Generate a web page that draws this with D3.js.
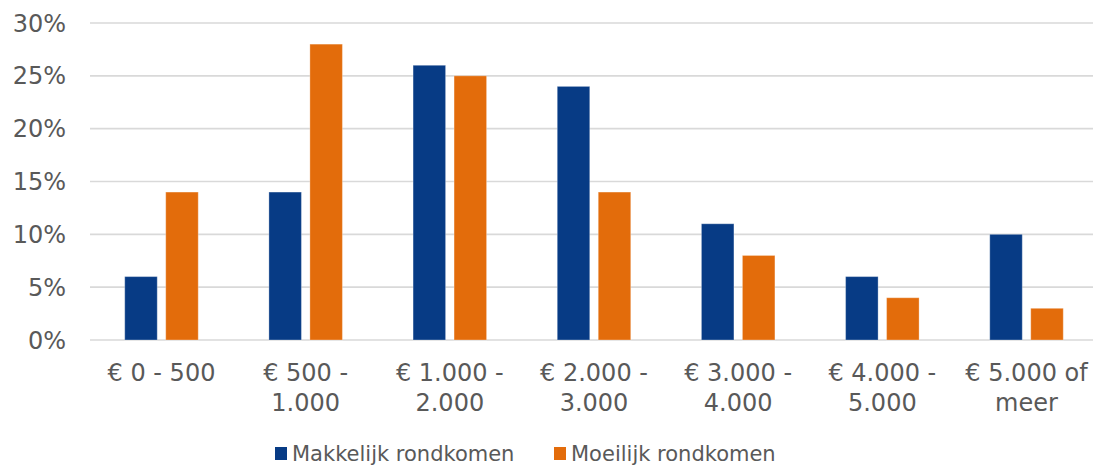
<!DOCTYPE html>
<html>
<head>
<meta charset="utf-8">
<script src="https://cdn.jsdelivr.net/npm/d3@7"></script>
<style>
  html, body { margin: 0; padding: 0; background: #fff; }
  svg text { font-family: "DejaVu Sans", Verdana, sans-serif; fill: #595959; }
</style>
</head>
<body>
<div id="chart"></div>
<script>
// data
const categories = [
  ['€ 0 - 500'],
  ['€ 500 -', '1.000'],
  ['€ 1.000 -', '2.000'],
  ['€ 2.000 -', '3.000'],
  ['€ 3.000 -', '4.000'],
  ['€ 4.000 -', '5.000'],
  ['€ 5.000 of', 'meer']
];
const seriesNames = ['Makkelijk rondkomen', 'Moeilijk rondkomen'];
const makkelijk = [6, 14, 26, 24, 11, 6, 10];
const moeilijk = [14, 28, 25, 14, 8, 4, 3];
const yTicks = [0, 5, 10, 15, 20, 25, 30];
const colors = ['#073b85', '#e36c0b'];

const width = 1093;
const height = 466;

const svg = d3.select('#chart')
  .append('svg')
  .attr('width', width)
  .attr('height', height);

const x = d3.scaleBand()
  .domain(d3.range(categories.length))
  .range([89.4, 1098.6])
  .padding(0);

const xInner = d3.scaleBand()
  .domain(d3.range(seriesNames.length))
  .range([0, x.bandwidth()])
  .paddingInner(0.207)
  .paddingOuter(0.862);

const y = d3.scaleLinear()
  .domain([0, 30])
  .range([340, 23]);

// gridlines
svg.append('g')
  .selectAll('line')
  .data(yTicks)
  .enter()
  .append('line')
  .attr('x1', 90)
  .attr('x2', width)
  .attr('y1', d => y(d))
  .attr('y2', d => y(d))
  .style('stroke', '#d9d9d9')
  .style('stroke-width', '1.6px');

// y labels
svg.append('g')
  .selectAll('text')
  .data(yTicks)
  .enter()
  .append('text')
  .attr('x', 66)
  .attr('y', d => y(d))
  .attr('dy', '0.36em')
  .attr('text-anchor', 'end')
  .style('font-size', '24px')
  .text(d => d + '%');

// bars
const values = [makkelijk, moeilijk];
const groups = svg.append('g')
  .selectAll('g')
  .data(values)
  .enter()
  .append('g')
  .style('fill', (_, i) => colors[i]);

groups.each(function(series, si) {
  d3.select(this).selectAll('rect')
    .data(series)
    .enter()
    .append('rect')
    .attr('x', (_, i) => x(i) + xInner(si))
    .attr('width', xInner.bandwidth())
    .attr('y', d => y(d))
    .attr('height', d => y(0) - y(d))
    .style('stroke', '#fff')
    .style('stroke-opacity', 0.3)
    .style('stroke-width', '1px');
});

// x labels
const xl = svg.append('g')
  .selectAll('text')
  .data(categories)
  .enter()
  .append('text')
  .attr('x', (_, i) => x(i) + x.bandwidth() / 2)
  .attr('y', 381)
  .attr('text-anchor', 'middle')
  .style('font-size', '24px');

xl.selectAll('tspan')
  .data(d => d)
  .enter()
  .append('tspan')
  .attr('x', function() { return d3.select(this.parentNode).attr('x'); })
  .attr('dy', (_, i) => i === 0 ? 0 : 30)
  .text(d => d);

// legend
const legendX = [275, 554];
const legend = svg.append('g')
  .selectAll('g')
  .data(seriesNames)
  .enter()
  .append('g')
  .attr('transform', (_, i) => `translate(${legendX[i]}, 447)`);

legend.append('rect')
  .attr('width', 12)
  .attr('height', 13)
  .style('fill', (_, i) => colors[i]);

legend.append('text')
  .attr('x', 17)
  .attr('y', 14)
  .style('font-size', '21px')
  .text(d => d);
</script>
</body>
</html>
